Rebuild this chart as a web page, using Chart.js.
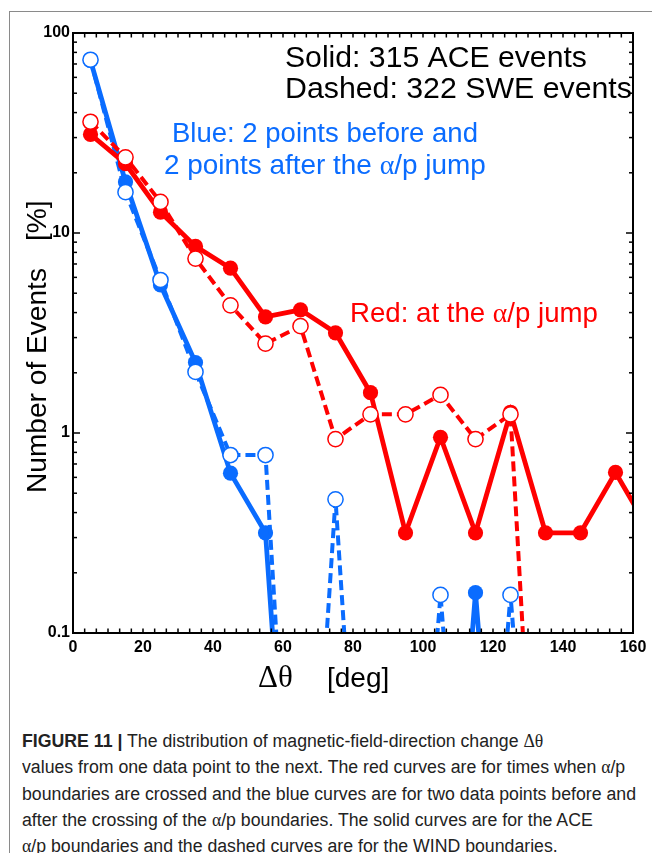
<!DOCTYPE html>
<html><head><meta charset="utf-8">
<script src="https://cdn.jsdelivr.net/npm/chart.js@4.4.1/dist/chart.umd.min.js"></script>
<style>
html,body{margin:0;padding:0;background:#fff;width:652px;height:853px;overflow:hidden;}
#frame{position:absolute;left:9px;top:11px;width:700px;height:900px;border-left:1.5px solid #8a8a8a;border-top:1.5px solid #8a8a8a;}
#wrap{position:absolute;left:0;top:0;width:652px;height:700px;}
#cap{position:absolute;left:22px;top:728px;font-family:'Liberation Sans',Arial,sans-serif;font-size:18px;color:#222;line-height:26.3px;}
#cap div{white-space:nowrap;transform-origin:0 50%;}
#cap span.l{display:inline-block;}
.g{font-family:'Liberation Serif','DejaVu Serif',serif;}
</style></head>
<body>
<div id="frame"></div>
<div id="wrap"><canvas id="c" width="652" height="700"></canvas></div>
<div id="cap">
<div><span class="l"><b>FIGURE 11 |</b> The distribution of magnetic-field-direction change <span class="g">Δθ</span></span></div>
<div><span class="l">values from one data point to the next. The red curves are for times when <span class="g">α</span>/p</span></div>
<div><span class="l" id="ref">boundaries are crossed and the blue curves are for two data points before and</span></div>
<div><span class="l">after the crossing of the <span class="g">α</span>/p boundaries. The solid curves are for the ACE</span></div>
<div><span class="l"><span class="g">α</span>/p boundaries and the dashed curves are for the WIND boundaries.</span></div>
</div>
<script>
// ---- data ----
const binCenters = [5,15,25,35,45,55,65,75,85,95,105,115,125,135,145,155,165];
const redACE  = [31.1,22.2,12.7,8.57,6.67,3.81,4.13,3.17,1.59,0.317,0.952,0.317,1.27,0.317,0.317,0.635,0.317];
const redSWE  = [36.0,23.9,14.3,7.45,4.35,2.80,3.42,0.932,1.24,1.24,1.55,0.932,1.24,0,0,0,0];
const blueACE = [73.0,18.0,5.5,2.25,0.63,0.317,0,0,0,0,0,0.159,0,0,0,0,0];
const blueSWE = [73.5,16.0,5.82,2.02,0.776,0.776,0,0.466,0,0,0.155,0,0.155,0,0,0,0];
const xTickValues = [0,20,40,60,80,100,120,140,160];
const yTickValues = [0.1,1,10,100];
const ZERO_FLOOR = 0.001; // empty bins are drawn far below the log axis (clipped)

const RED = '#ff0000', BLUE = '#0a6cff';
const SANS = "'Liberation Sans', Arial, Helvetica, sans-serif";
const SERIF = "'Liberation Serif', 'DejaVu Serif', serif";

function pts(arr){ return binCenters.map((x,i)=>({x:x, y: arr[i] > 0 ? arr[i] : ZERO_FLOOR})); }
function radii(arr, r){ return arr.map(v => v > 0 ? r : 0); }

function ds(label, arr, color, dashed, open, order){
  return {
    label, data: pts(arr), order,
    borderColor: color, borderWidth: dashed ? 4 : 4.8,
    borderDash: dashed ? [10,5] : [],
    tension: 0, fill: false,
    pointRadius: radii(arr, open ? 7.6 : 7.6),
    pointBackgroundColor: open ? '#ffffff' : color,
    pointBorderColor: color,
    pointBorderWidth: open ? 1.5 : 0,
    pointStyle: 'circle'
  };
}

function drawFit(ctx, segs, x, y, targetW, color){
  let w = 0;
  segs.forEach(s => { ctx.font = (s.serif ? '100px ' + SERIF : '100px ' + SANS); w += ctx.measureText(s.t).width; });
  const size = 100 * targetW / w;
  ctx.fillStyle = color; ctx.textBaseline = 'alphabetic'; ctx.textAlign = 'left';
  let cx = x;
  segs.forEach(s => { ctx.font = size + 'px ' + (s.serif ? SERIF : SANS); ctx.fillText(s.t, cx, y); cx += ctx.measureText(s.t).width; });
  return size;
}

const decor = {
  id: 'decor',
  afterDatasetsDraw(chart){
    const {ctx, chartArea: a, scales: {x, y}} = chart;
    ctx.save();
    ctx.strokeStyle = '#000'; ctx.lineWidth = 1.5;
    const ln = (x1,y1,x2,y2) => { ctx.beginPath(); ctx.moveTo(x1,y1); ctx.lineTo(x2,y2); ctx.stroke(); };
    for (let k = 0; k <= 48; k++){
      const px = x.getPixelForValue(k*20/6);
      const len = 4.5;
      ln(px, a.bottom, px, a.bottom - len);
      ln(px, a.top, px, a.top + len);
    }
    for (let d = -1; d < 2; d++){
      for (let m = 1; m <= 9; m++){
        const py = y.getPixelForValue(m * Math.pow(10, d));
        const len = m === 1 ? 7 : 4;
        ln(a.left, py, a.left + len, py);
        ln(a.right, py, a.right - len, py);
      }
    }
    ctx.lineWidth = 2;
    ctx.strokeRect(a.left, a.top, a.right - a.left, a.bottom - a.top);

    // annotations
    drawFit(ctx, [{t:'Solid: 315 ACE events'}], 285, 67, 302, '#000');
    drawFit(ctx, [{t:'Dashed: 322 SWE events'}], 285, 98, 347, '#000');
    drawFit(ctx, [{t:'Blue: 2 points before and'}], 172, 142, 306, BLUE);
    drawFit(ctx, [{t:'2 points after the '},{t:'α',serif:true},{t:'/p jump'}], 164, 174, 322, BLUE);
    drawFit(ctx, [{t:'Red: at the '},{t:'α',serif:true},{t:'/p jump'}], 350, 322, 248, RED);

    // axis titles
    ctx.save();
    ctx.translate(46, 493); ctx.rotate(-Math.PI/2);
    const sz = drawFit(ctx, [{t:'Number of Events'}], 0, 0, 225, '#000');
    ctx.restore();
    ctx.save();
    ctx.translate(46, 241); ctx.rotate(-Math.PI/2);
    ctx.font = sz + 'px ' + SANS; ctx.fillStyle = '#000'; ctx.fillText('[%]', 0, 0);
    ctx.restore();

    ctx.fillStyle = '#000'; ctx.textBaseline = 'alphabetic'; ctx.textAlign = 'left';
    ctx.font = '31px ' + SERIF; ctx.fillText('Δθ', 258, 687);
    ctx.font = '28px ' + SANS; ctx.fillText('[deg]', 327, 687);
    ctx.restore();
  }
};

new Chart(document.getElementById('c').getContext('2d'), {
  type: 'line',
  data: { datasets: [
    ds('SWE at jump', redSWE, RED, true, true, 0),
    ds('ACE at jump', redACE, RED, false, false, 1),
    ds('SWE around jump', blueSWE, BLUE, true, true, 2),
    ds('ACE around jump', blueACE, BLUE, false, false, 3)
  ]},
  options: {
    responsive: false, animation: false, devicePixelRatio: 1,
    layout: { padding: { top: 33, right: 19, left: 0, bottom: 0 } },
    plugins: { legend: { display: false }, tooltip: { enabled: false } },
    scales: {
      x: {
        type: 'linear', min: 0, max: 160,
        grid: { display: false, drawTicks: false }, border: { display: false },
        afterBuildTicks: s => { s.ticks = xTickValues.map(v => ({value: v})); },
        afterFit: s => { s.height = 67; },
        ticks: { font: { family: SANS, size: 16, weight: 'bold' }, color: '#000', padding: 5, maxRotation: 0, autoSkip: false, callback: v => String(v) }
      },
      y: {
        type: 'logarithmic', min: 0.1, max: 100,
        grid: { display: false, drawTicks: false }, border: { display: false },
        afterBuildTicks: s => { s.ticks = yTickValues.map(v => ({value: v})); },
        afterFit: s => { s.width = 73; },
        ticks: { font: { family: SANS, size: 16, weight: 'bold' }, color: '#000', padding: 3, autoSkip: false, callback: v => String(v) }
      }
    }
  },
  plugins: [decor]
});

// fit caption lines to the reference's condensed type
const refW = document.getElementById('ref').getBoundingClientRect().width;
const k = 614 / refW;
document.querySelectorAll('#cap > div').forEach(d => { d.style.transform = 'scaleX(' + k + ')'; });
</script>
</body></html>
